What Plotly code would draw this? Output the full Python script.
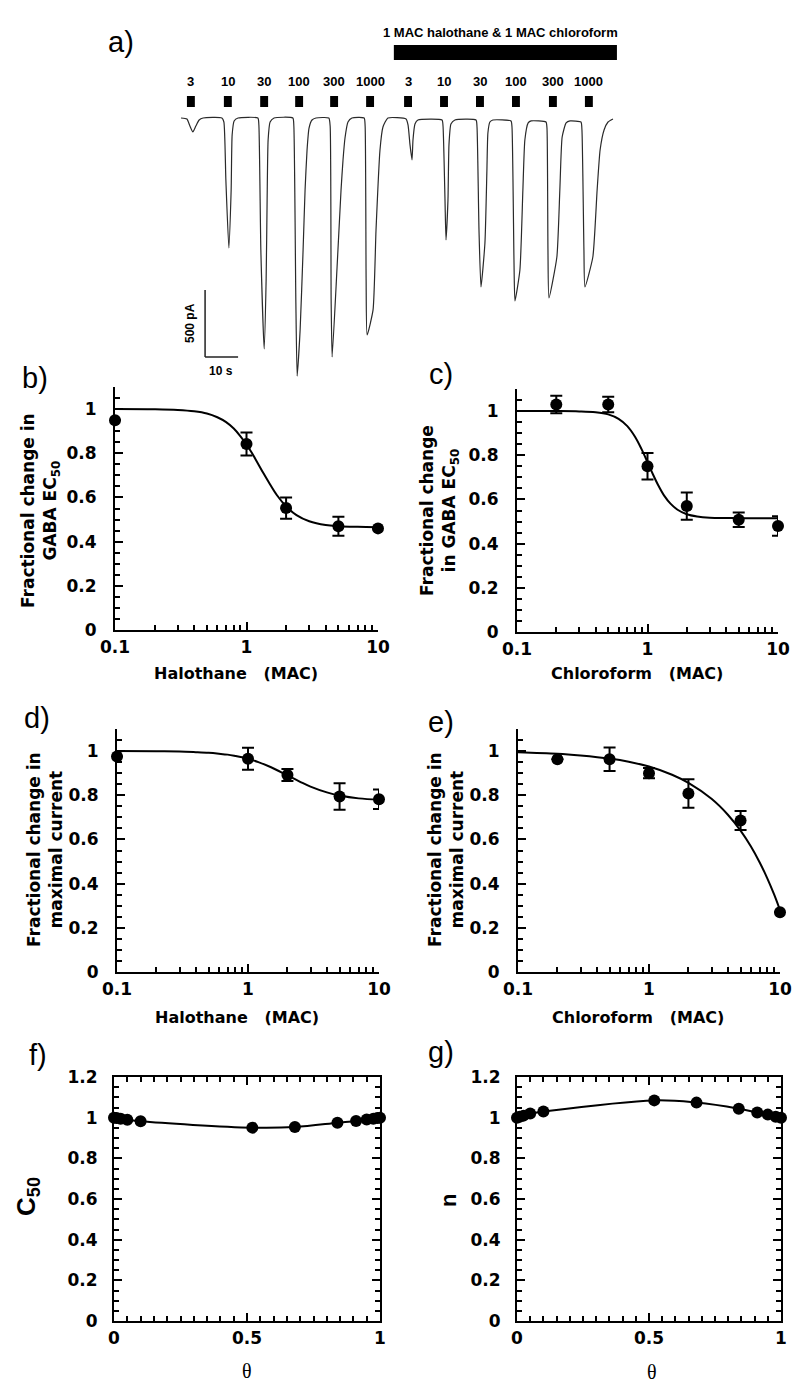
import plotly.graph_objects as go

# the page body keeps its default 8 px margin, so the figure is drawn 16 px smaller
PAGE_W, PAGE_H, BODY = 800, 1395, 8
W, H = PAGE_W - 2 * BODY, PAGE_H - 2 * BODY

# ---------------- panel a: current trace (time in s, current in pA) ----------------
trace_t = [0.0, 1.8, 2.7, 3.6, 4.5, 5.5, 6.7, 12.4, 13.0, 13.6, 14.5, 15.2, 15.5, 16.1, 17.3,
           23.3, 23.6, 24.2, 25.2, 25.8, 26.1, 26.4, 27.0, 28.2,
           33.9, 34.2, 34.8, 35.2, 36.1, 37.0, 37.6, 38.2, 38.8, 39.7, 40.9,
           44.8, 45.2, 45.5, 45.8, 47.3, 48.5, 49.1, 49.7, 50.6, 51.8,
           55.5, 55.8, 56.1, 56.4, 58.2, 59.1, 60.3, 61.2, 62.7,
           68.2, 68.8, 69.4, 70.0, 70.3, 70.9, 71.8,
           79.1, 79.4, 80.0, 80.3, 80.9, 81.2, 81.8, 83.0,
           89.4, 89.7, 90.3, 90.9, 92.1, 92.7, 93.0, 93.6, 94.5,
           100.0, 100.3, 100.9, 101.2, 102.7, 103.6, 104.2, 105.2, 106.1,
           110.6, 110.9, 111.2, 111.5, 113.9, 114.8, 115.5, 116.7, 117.9,
           121.2, 121.5, 122.1, 122.4, 124.8, 126.1, 127.0, 128.2, 129.4, 130.9]
trace_i = [0, -7, -60, -104, -60, -15, 0, 0, -30, -463, -970, -537, -127, -22, 0,
           0, -52, -985, -1723, -1209, -612, -164, -30, 0,
           0, -60, -1358, -1925, -1582, -985, -537, -239, -75, -15, 0,
           0, -60, -1358, -1783, -1112, -537, -313, -149, -30, 0,
           0, -60, -1209, -1619, -1432, -836, -239, -67, 0,
           -7, -52, -201, -313, -164, -45, -15,
           -15, -60, -612, -910, -612, -201, -45, -15,
           -15, -67, -836, -1261, -933, -388, -112, -30, -15,
           -22, -67, -1059, -1365, -1134, -537, -164, -37, -22,
           -30, -75, -985, -1343, -1037, -537, -142, -37, -22,
           -30, -90, -985, -1261, -1037, -537, -239, -90, -30, -7]

gaba_conc = ["3", "10", "30", "100", "300", "1000", "3", "10", "30", "100", "300", "1000"]
gaba_time = [3.0, 14.2, 25.2, 35.8, 46.4, 57.3, 68.8, 79.7, 90.6, 101.5, 112.7, 123.6]
drug_on, drug_off = 64.5, 132.1
drug_label = "1 MAC halothane & 1 MAC chloroform"
scale_t0, scale_i0 = 7.3, -1783
scale_dt, scale_di = 10, 500

# ---------------- panel b: halothane, EC50 ----------------
b_x = [0.1, 1, 2, 5, 10]
b_y = [0.95, 0.842, 0.552, 0.47, 0.46]
b_err = [0.0, 0.052, 0.048, 0.043, 0.0]
b_fit_x = [0.1, 0.2, 0.3, 0.4, 0.5, 0.6, 0.7, 0.8, 0.9, 1.0, 1.1, 1.2, 1.35, 1.5, 1.7, 2.0, 2.4, 3.0, 4.0, 5.0, 7.0, 10.0]
b_fit_y = [1.0, 0.999, 0.996, 0.990, 0.980, 0.963, 0.941, 0.912, 0.877, 0.840, 0.801, 0.762, 0.708, 0.662,
           0.611, 0.560, 0.520, 0.492, 0.475, 0.470, 0.467, 0.4655]

# ---------------- panel c: chloroform, EC50 ----------------
c_x = [0.2, 0.5, 1, 2, 5, 10]
c_y = [1.03, 1.03, 0.75, 0.57, 0.508, 0.48]
c_err = [0.04, 0.035, 0.06, 0.062, 0.033, 0.044]
c_fit_x = [0.1, 0.2, 0.3, 0.4, 0.5, 0.6, 0.7, 0.8, 0.9, 1.0, 1.1, 1.2, 1.35, 1.5, 1.7, 2.0, 2.4, 3.0, 4.0, 5.0, 7.0, 10.0]
c_fit_y = [1.0, 1.0, 0.9986, 0.9946, 0.985, 0.965, 0.932, 0.885, 0.828, 0.769, 0.714, 0.668, 0.615, 0.581,
           0.5535, 0.533, 0.523, 0.5177, 0.516, 0.5152, 0.515, 0.515]

# ---------------- panel d: halothane, maximal current ----------------
d_x = [0.1, 1, 2, 5, 10]
d_y = [0.975, 0.965, 0.892, 0.794, 0.782]
d_err = [0.0, 0.05, 0.027, 0.06, 0.044]
d_fit_x = [0.1, 0.2, 0.3, 0.4, 0.5, 0.6, 0.7, 0.8, 0.9, 1.0, 1.2, 1.5, 2.0, 2.5, 3.0, 4.0, 5.0, 7.0, 10.0]
d_fit_y = [1.0, 0.999, 0.998, 0.995, 0.992, 0.988, 0.984, 0.978, 0.972, 0.965, 0.950, 0.927, 0.890,
           0.861, 0.839, 0.813, 0.799, 0.786, 0.780]

# ---------------- panel e: chloroform, maximal current ----------------
e_x = [0.2, 0.5, 1, 2, 5, 10]
e_y = [0.963, 0.963, 0.90, 0.808, 0.686, 0.27]
e_err = [0.0, 0.053, 0.023, 0.065, 0.043, 0.0]
e_fit_x = [0.1, 0.2, 0.3, 0.5, 0.7, 1.0, 1.5, 2.0, 3.0, 4.0, 5.0, 6.0, 7.0, 8.0, 9.0, 10.0]
e_fit_y = [0.995, 0.988, 0.980, 0.966, 0.952, 0.930, 0.893, 0.856, 0.784, 0.712, 0.640, 0.568, 0.496,
           0.424, 0.352, 0.280]

# ---------------- panels f, g ----------------
f_theta = [0, 0.01, 0.025, 0.05, 0.1, 0.52, 0.68, 0.84, 0.91, 0.95, 0.975, 0.99, 1.0]
f_c50 = [1.0, 0.998, 0.995, 0.99, 0.982, 0.951, 0.954, 0.975, 0.984, 0.991, 0.995, 0.998, 1.0]
g_theta = [0, 0.01, 0.025, 0.05, 0.1, 0.52, 0.68, 0.84, 0.91, 0.95, 0.98, 1.0]
g_n = [1.0, 1.005, 1.01, 1.02, 1.03, 1.085, 1.074, 1.044, 1.025, 1.015, 1.005, 1.0]

log_ticks = [0.1, 1, 10]
log_labels = ["0.1", "1", "10"]
log_minor = [0.2, 0.3, 0.4, 0.5, 0.6, 0.7, 0.8, 0.9, 2, 3, 4, 5, 6, 7, 8, 9]


# ---------------- helpers: page pixel -> paper fraction ----------------
def fx(px):
    return (px - BODY) / W


def fy(py):
    return 1 - (py - BODY) / H


SANS = "Liberation Sans"
WIDE = "DejaVu Sans"
tickfont = dict(family=WIDE, size=17, color="black", weight="bold")

fig = go.Figure()

fig.add_trace(go.Scatter(x=trace_t, y=trace_i, mode="lines",
                         line=dict(color="#2a2a2a", width=1.2, shape="spline", smoothing=0.5),
                         xaxis="x", yaxis="y", showlegend=False, hoverinfo="skip"))


def add_dose(ax, x, y, err, fx_, fy_):
    fig.add_trace(go.Scatter(x=fx_, y=fy_, mode="lines", line=dict(color="black", width=2, shape="spline"),
                             xaxis="x" + ax, yaxis="y" + ax, showlegend=False, cliponaxis=False))
    fig.add_trace(go.Scatter(x=x, y=y, mode="markers", marker=dict(color="black", size=12),
                             error_y=dict(type="data", array=err, color="black", thickness=2, width=6),
                             xaxis="x" + ax, yaxis="y" + ax, showlegend=False, cliponaxis=False))


add_dose("2", b_x, b_y, b_err, b_fit_x, b_fit_y)
add_dose("3", c_x, c_y, c_err, c_fit_x, c_fit_y)
add_dose("4", d_x, d_y, d_err, d_fit_x, d_fit_y)
add_dose("5", e_x, e_y, e_err, e_fit_x, e_fit_y)

fig.add_trace(go.Scatter(x=f_theta, y=f_c50, mode="lines+markers",
                         line=dict(color="black", width=2, shape="spline"),
                         marker=dict(color="black", size=12), xaxis="x6", yaxis="y6",
                         showlegend=False, cliponaxis=False))
fig.add_trace(go.Scatter(x=g_theta, y=g_n, mode="lines+markers",
                         line=dict(color="black", width=2, shape="spline"),
                         marker=dict(color="black", size=12), xaxis="x7", yaxis="y7",
                         showlegend=False, cliponaxis=False))
# empty traces so the mirrored tick axes (top / right) of f and g are drawn
for xa, ya in [("x8", "y8"), ("x9", "y9")]:
    fig.add_trace(go.Scatter(x=[None], y=[None], xaxis=xa, yaxis=ya, showlegend=False, hoverinfo="skip"))

layout = dict(template="none", width=W, height=H, margin=dict(l=0, r=0, t=0, b=0, autoexpand=False),
              paper_bgcolor="white", plot_bgcolor="rgba(0,0,0,0)", showlegend=False)

layout["xaxis"] = dict(domain=[fx(170), fx(630)], range=[-3.33, 136.06], visible=False, fixedrange=True,
                       automargin=False)
layout["yaxis"] = dict(domain=[fy(420), fy(20)], range=[-2253, 731], visible=False, fixedrange=True,
                       automargin=False)

common = dict(showline=True, linecolor="black", linewidth=2, ticks="inside", ticklen=8, tickwidth=2,
              tickcolor="black", tickfont=tickfont, showgrid=False, zeroline=False, automargin=False)
minor_common = dict(ticks="inside", ticklen=5, tickwidth=1.5, tickcolor="black", showgrid=False)


def log_x(domain, anchor):
    return dict(type="log", domain=domain, range=[-1, 1], anchor=anchor, tickvals=log_ticks,
                ticktext=log_labels, ticklabelstandoff=1, minor=dict(tickvals=log_minor, **minor_common),
                **common)


def lin_y(domain, anchor):
    return dict(domain=domain, range=[0, 1.1], anchor=anchor,
                tickvals=[0, 0.2, 0.4, 0.6, 0.8, 1], ticktext=["0", "0.2", "0.4", "0.6", "0.8", "1"],
                ticklabelstandoff=13, minor=dict(dtick=0.05, **minor_common), **common)


layout["xaxis2"] = log_x([fx(115), fx(378)], "y2")
layout["yaxis2"] = lin_y([fy(630), fy(387)], "x2")
layout["xaxis3"] = log_x([fx(517), fx(778)], "y3")
layout["yaxis3"] = lin_y([fy(632), fy(389)], "x3")
layout["xaxis4"] = log_x([fx(117), fx(379)], "y4")
layout["yaxis4"] = lin_y([fy(972), fy(729)], "x4")
layout["xaxis5"] = log_x([fx(518), fx(780)], "y5")
layout["yaxis5"] = lin_y([fy(972), fy(729)], "x5")

theta_vals = [0, 0.5, 1]
theta_labels = ["0", "0.5", "1"]
yb_vals = [0, 0.2, 0.4, 0.6, 0.8, 1, 1.2]
yb_labels = ["0", "0.2", "0.4", "0.6", "0.8", "1", "1.2"]


def box_x(domain, anchor):
    return dict(domain=domain, range=[0, 1], anchor=anchor, mirror=True, tickvals=theta_vals,
                ticktext=theta_labels, ticklabelstandoff=1, minor=dict(dtick=0.05, **minor_common), **common)


def box_y(domain, anchor):
    return dict(domain=domain, range=[0, 1.2], anchor=anchor, mirror=True, tickvals=yb_vals,
                ticktext=yb_labels, ticklabelstandoff=11, minor=dict(dtick=0.05, **minor_common), **common)


def top_x(over, anchor):
    return dict(overlaying=over, anchor=anchor, side="top", range=[0, 1], showline=False, ticks="inside",
                ticklen=8, tickwidth=2, tickcolor="black", tickvals=theta_vals, showticklabels=False,
                showgrid=False, zeroline=False, automargin=False, minor=dict(dtick=0.05, **minor_common))


def right_y(over, anchor):
    return dict(overlaying=over, anchor=anchor, side="right", range=[0, 1.2], showline=False, ticks="inside",
                ticklen=8, tickwidth=2, tickcolor="black", tickvals=yb_vals, showticklabels=False,
                showgrid=False, zeroline=False, automargin=False, minor=dict(dtick=0.05, **minor_common))


layout["xaxis6"] = box_x([fx(114), fx(380)], "y6")
layout["yaxis6"] = box_y([fy(1321), fy(1077)], "x6")
layout["xaxis7"] = box_x([fx(517), fx(781)], "y7")
layout["yaxis7"] = box_y([fy(1321), fy(1077)], "x7")
layout["xaxis8"] = top_x("x6", "y6")
layout["yaxis8"] = right_y("y6", "x6")
layout["xaxis9"] = top_x("x7", "y7")
layout["yaxis9"] = right_y("y7", "x7")

shapes = []
for t in gaba_time:
    shapes.append(dict(type="rect", xref="x", yref="paper", x0=t - 1.2, x1=t + 1.2, y0=fy(107), y1=fy(96),
                       fillcolor="black", line=dict(width=0)))
shapes.append(dict(type="rect", xref="x", yref="paper", x0=drug_on, x1=drug_off, y0=fy(60), y1=fy(45),
                   fillcolor="black", line=dict(width=0)))
shapes.append(dict(type="line", xref="x", yref="y", x0=scale_t0, x1=scale_t0, y0=scale_i0,
                   y1=scale_i0 + scale_di, line=dict(color="#222", width=1.5)))
shapes.append(dict(type="line", xref="x", yref="y", x0=scale_t0, x1=scale_t0 + scale_dt, y0=scale_i0,
                   y1=scale_i0, line=dict(color="#222", width=1.5)))
layout["shapes"] = shapes

ann = []


def note(text, px, py, font, xref="paper", x=None, angle=0):
    ann.append(dict(x=fx(px) if x is None else x, y=fy(py), xref=xref, yref="paper", text=text,
                    showarrow=False, font=font, textangle=angle, xanchor="center", yanchor="middle"))


small_bold = dict(family=SANS, size=13, color="black", weight="bold")
for t, c in zip(gaba_time, gaba_conc):
    note(c, 0, 82, small_bold, xref="x", x=t)
note(drug_label, 500, 32, dict(family=SANS, size=13, color="black", weight="bold"))
note("500 pA", 190, 323, dict(family=SANS, size=12, color="black", weight="bold"), angle=-90)
note("10 s", 221, 371, dict(family=SANS, size=12, color="black", weight="bold"))

panel_font = dict(family=SANS, size=29, color="black")
for lab, px, py in [("a)", 121, 42), ("b)", 35, 378), ("c)", 441, 374), ("d)", 37, 718),
                    ("e)", 441, 722), ("f)", 38, 1055), ("g)", 441, 1052)]:
    note(lab, px, py, panel_font)

title_font = dict(family=WIDE, size=16, color="black", weight="bold")
sp = "\u00a0\u00a0\u00a0"
for txt, px, py in [("Halothane" + sp + "(MAC)", 236, 673), ("Chloroform" + sp + "(MAC)", 637, 673),
                    ("Halothane" + sp + "(MAC)", 237, 1017), ("Chloroform" + sp + "(MAC)", 638, 1017)]:
    note(txt, px, py, title_font)

ytitle_font = dict(family=WIDE, size=17, color="black", weight="bold")
for txt, px, py in [("Fractional change in<br>GABA EC<sub>50</sub>", 40, 511),
                    ("Fractional change<br>in GABA EC<sub>50</sub>", 439, 511),
                    ("Fractional change in<br>maximal current", 45, 850),
                    ("Fractional change in<br>maximal current", 446, 850)]:
    note(txt, px, py, ytitle_font, angle=-90)

note("C<sub>50</sub>", 27, 1197, dict(family=SANS, size=26, color="black", weight="bold"), angle=-90)
note("n", 448, 1200, dict(family=SANS, size=22, color="black", weight="bold"), angle=-90)
theta_font = dict(family="Liberation Serif", size=20, color="black")
note("θ", 247, 1371, theta_font)
note("θ", 652, 1372, theta_font)
layout["annotations"] = ann

fig.update_layout(**layout)
fig.write_html("out.html")
